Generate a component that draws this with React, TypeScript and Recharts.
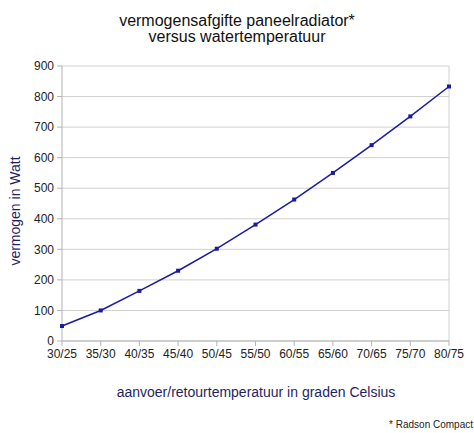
import React from 'react';
import { LineChart, Line, XAxis, YAxis, CartesianGrid, ReferenceLine } from 'recharts';

const categories = ['30/25', '35/30', '40/35', '45/40', '50/45', '55/50', '60/55', '65/60', '70/65', '75/70', '80/75'];
const vermogen = [49, 100, 164, 230, 302, 381, 463, 550, 641, 735, 833];
const yTicks = [0, 100, 200, 300, 400, 500, 600, 700, 800, 900];

const data = categories.map((c, i) => ({ cat: c, w: vermogen[i] }));

const FONT = '"Liberation Sans", Arial, sans-serif';
const LINE = '#1a1aa6';

const SquareDot = (props: any) => {
  const { cx, cy, index } = props;
  if (cx == null || cy == null) return null;
  return <rect key={`d${index}`} x={cx - 2} y={cy - 2} width={4} height={4} fill={LINE} />;
};

export default function App() {
  return (
    <div style={{ position: 'absolute', left: 0, top: 0, width: 474, height: 433, background: '#fff', fontFamily: FONT }}>
      <LineChart width={474} height={433} data={data} margin={{ top: 66, right: 25, bottom: 62, left: 0 }}>
        <CartesianGrid vertical={false} stroke="#d0d0d0" />
        <XAxis
          dataKey="cat"
          interval={0}
          height={30}
          tickSize={5}
          tickMargin={3}
          stroke="#b3b3b3"
          tick={{ fill: '#222', fontSize: 12, fontFamily: FONT }}
        />
        <YAxis
          width={62}
          domain={[0, 900]}
          ticks={yTicks}
          tickSize={5}
          tickMargin={3}
          stroke="#b3b3b3"
          tick={{ fill: '#222', fontSize: 12, fontFamily: FONT }}
        />
        <ReferenceLine x="80/75" stroke="#d0d0d0" />
        <Line
          type="linear"
          dataKey="w"
          stroke={LINE}
          strokeWidth={1.5}
          dot={<SquareDot />}
          activeDot={false}
          isAnimationActive={false}
        />
      </LineChart>
      <div style={{ position: 'absolute', left: 0, width: 474, top: 13, textAlign: 'center', fontSize: 16, lineHeight: '16px', color: '#111' }}>
        vermogensafgifte paneelradiator*
        <br />
        versus watertemperatuur
      </div>
      <div style={{ position: 'absolute', left: 15, top: 211, width: 0, height: 0 }}>
        <div style={{ position: 'absolute', transform: 'translate(-50%, -50%) rotate(-90deg)', whiteSpace: 'nowrap', fontSize: 14, color: '#1f1f66' }}>
          vermogen in Watt
        </div>
      </div>
      <div style={{ position: 'absolute', left: 0, width: 512, top: 384, textAlign: 'center', fontSize: 14, color: '#1f1f66', whiteSpace: 'nowrap' }}>
        aanvoer/retourtemperatuur in graden Celsius
      </div>
      <div style={{ position: 'absolute', right: 1, top: 419, fontSize: 10, color: '#222', whiteSpace: 'nowrap' }}>
        * Radson Compact
      </div>
    </div>
  );
}
